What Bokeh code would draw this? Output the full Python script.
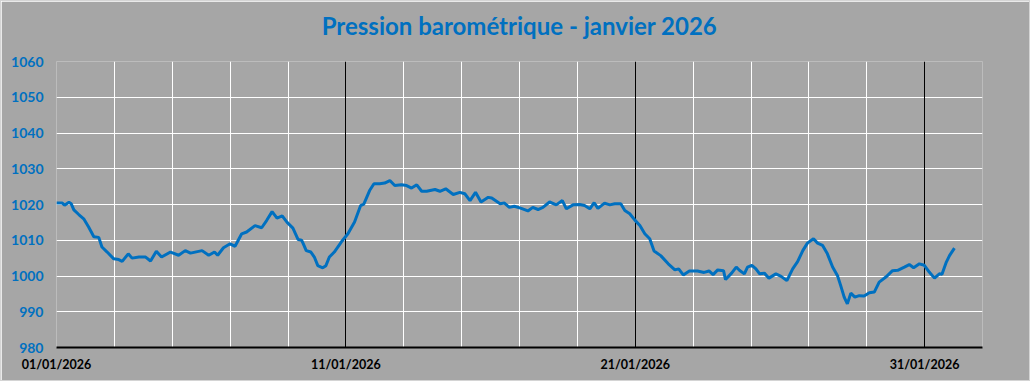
import pandas as pd
from bokeh.plotting import figure
from bokeh.models import Range1d, FixedTicker, DatetimeTickFormatter, Grid, ColumnDataSource, LinearAxis
from bokeh.embed import file_html
from bokeh.resources import INLINE

# --- data ---
start_date = "2026-01-01 00:00"
day_offset = [
    0.00, 0.20, 0.28, 0.43, 0.51, 0.60, 0.77, 0.94, 1.11, 1.29, 1.46, 1.57, 1.75, 1.98,
    2.15, 2.27, 2.48, 2.61, 2.85, 3.08, 3.25, 3.45, 3.63, 3.94, 4.22, 4.45, 4.63, 5.03,
    5.26, 5.46, 5.57, 5.77, 6.00, 6.17, 6.40, 6.57, 6.86, 7.09, 7.26, 7.45, 7.62, 7.80,
    7.97, 8.17, 8.35, 8.47, 8.53, 8.63, 8.79, 8.91, 9.03, 9.20, 9.31, 9.43, 9.60, 9.84,
    10.07, 10.30, 10.51, 10.62, 10.82, 10.97, 11.17, 11.34, 11.52, 11.69, 11.92, 12.10,
    12.27, 12.45, 12.62, 12.79, 13.08, 13.25, 13.45, 13.71, 13.94, 14.11, 14.29, 14.48,
    14.67, 14.92, 15.04, 15.33, 15.48, 15.65, 15.82, 16.06, 16.29, 16.46, 16.64, 16.81,
    17.04, 17.27, 17.48, 17.62, 17.85, 18.08, 18.25, 18.43, 18.58, 18.71, 18.94, 19.12,
    19.29, 19.50, 19.64, 19.81, 19.98, 20.16, 20.33, 20.50, 20.65, 20.88, 21.14, 21.37,
    21.50, 21.66, 21.87, 22.15, 22.38, 22.55, 22.69, 22.85, 23.05, 23.12, 23.33, 23.49,
    23.60, 23.77, 23.88, 24.03, 24.17, 24.30, 24.46, 24.62, 24.86, 25.04, 25.24, 25.44,
    25.61, 25.79, 25.95, 26.16, 26.30, 26.47, 26.64, 26.82, 26.99, 27.10, 27.22, 27.33,
    27.45, 27.59, 27.74, 27.91, 28.09, 28.26, 28.43, 28.66, 28.89, 29.07, 29.30, 29.47,
    29.62, 29.82, 29.99, 30.16, 30.34, 30.51, 30.60, 30.75, 30.86, 31.03,
]
pressure_hpa = [
    1020.4, 1020.4, 1019.8, 1020.6, 1020.2, 1018.5, 1017.2, 1016.0, 1013.7, 1011.0, 1010.8, 1008.1, 1006.7, 1004.8,
    1004.6, 1004.1, 1006.2, 1005.0, 1005.3, 1005.3, 1004.2, 1006.9, 1005.3, 1006.7, 1005.8, 1007.1, 1006.4, 1007.1,
    1005.8, 1006.7, 1005.8, 1007.9, 1009.0, 1008.3, 1011.8, 1012.3, 1014.1, 1013.5, 1015.5, 1018.0, 1016.2, 1016.8,
    1015.0, 1013.4, 1010.2, 1010.0, 1009.0, 1007.1, 1006.7, 1005.3, 1002.9, 1002.3, 1002.9, 1005.3, 1006.7, 1009.5,
    1011.8, 1015.1, 1019.7, 1020.1, 1023.9, 1025.8, 1025.8, 1026.0, 1026.7, 1025.3, 1025.5, 1025.3,
    1024.6, 1025.5, 1023.7, 1023.7, 1024.2, 1023.7, 1024.4, 1022.8, 1023.4, 1023.0, 1021.1, 1023.4,
    1020.7, 1022.0, 1021.8, 1020.2, 1020.4, 1019.2, 1019.5, 1018.9, 1018.2, 1019.2, 1018.6, 1019.2,
    1020.7, 1019.9, 1021.1, 1018.8, 1019.9, 1020.0, 1019.7, 1018.8, 1020.5, 1018.9, 1020.4, 1019.9,
    1020.2, 1020.2, 1018.3, 1017.4, 1015.7, 1014.1, 1011.8, 1010.4, 1007.0, 1005.7, 1003.4, 1001.7,
    1002.0, 1000.3, 1001.4, 1001.4, 1001.0, 1001.4, 1000.4, 1001.7, 1001.5, 999.0, 1000.8, 1002.5,
    1001.6, 1000.6, 1002.5, 1003.0, 1002.0, 1000.6, 1000.8, 999.4, 1000.6, 999.9, 998.7, 1002.0,
    1004.0, 1007.1, 1009.2, 1010.4, 1009.2, 1008.6, 1006.2, 1002.5, 1000.1, 997.3, 994.1, 992.2,
    995.2, 994.1, 994.5, 994.4, 995.3, 995.5, 998.3, 999.7, 1001.5, 1001.6, 1002.5, 1003.2,
    1002.3, 1003.4, 1003.0, 1001.1, 999.4, 1000.6, 1000.5, 1003.9, 1005.7, 1007.8,
]
y_ticks = [980, 990, 1000, 1010, 1020, 1030, 1040, 1050, 1060]
label_days = [0, 10, 20, 30]      # 01/01, 11/01, 21/01, 31/01
grid_days = list(range(0, 34, 2))  # every 2 days
title_text = "Pression barométrique - janvier 2026"

# --- build ---
t0 = pd.Timestamp(start_date)
times = t0 + pd.to_timedelta(day_offset, unit="D")
src = ColumnDataSource(dict(t=times, p=pressure_hpa))

def ms(d):
    return (t0 + pd.Timedelta(days=d)).value / 1e6

BG = "#a6a6a6"
BLUE = "#0070c0"

p = figure(width=1030, height=381, x_axis_type="datetime",
           output_backend="svg", toolbar_location=None,
           x_range=Range1d(ms(0), ms(32)), y_range=Range1d(980, 1060),
           min_border_left=55, min_border_right=49, min_border_top=60, min_border_bottom=35,
           background_fill_color=BG, border_fill_color=BG, outline_line_color=None)
p.styles = {"border": "1px solid #d4d4d4", "box-sizing": "border-box"}

# chart title carried by an empty axis above the frame (exact vertical placement)
title_axis = LinearAxis(ticker=FixedTicker(ticks=[]), axis_label=title_text,
                        axis_line_color=None, major_tick_line_color=None, minor_tick_line_color=None,
                        major_tick_out=0, major_tick_in=0, minor_tick_out=0, major_label_standoff=0,
                        axis_label_standoff=22, axis_label_text_font="Lato",
                        axis_label_text_font_style="bold", axis_label_text_font_size="24px",
                        axis_label_text_color=BLUE)
p.add_layout(title_axis, "above")

p.line("t", "p", source=src, line_color=BLUE, line_width=3)

# y axis
p.yaxis.ticker = FixedTicker(ticks=y_ticks)
p.yaxis.axis_line_color = None
p.yaxis.major_tick_line_color = None
p.yaxis.minor_tick_line_color = None
p.yaxis.major_label_text_font = "Lato"
p.yaxis.major_label_text_font_style = "bold"
p.yaxis.major_label_text_font_size = "14px"
p.yaxis.major_label_text_color = BLUE
p.yaxis.major_label_standoff = 13
p.yaxis.major_tick_out = 0
p.yaxis.major_tick_in = 0

# x axis (bottom)
xa = p.below[0]
xa.ticker = FixedTicker(ticks=[ms(d) for d in label_days])
fmt = "%d/%m/%Y"
xa.formatter = DatetimeTickFormatter(milliseconds=fmt, seconds=fmt, minsec=fmt, minutes=fmt,
                                     hourmin=fmt, hours=fmt, days=fmt, months=fmt, years=fmt)
xa.axis_line_color = "black"
xa.axis_line_width = 2
xa.major_tick_line_color = None
xa.minor_tick_line_color = None
xa.major_tick_out = 0
xa.major_tick_in = 0
xa.major_label_text_font = "Lato"
xa.major_label_text_font_style = "bold"
xa.major_label_text_font_size = "12.5px"
xa.major_label_text_color = "black"
xa.major_label_standoff = 9

# grids
p.ygrid.ticker = FixedTicker(ticks=y_ticks)
p.ygrid.grid_line_color = "white"
p.ygrid.grid_line_width = 1
p.xgrid.ticker = FixedTicker(ticks=[ms(d) for d in grid_days if d % 10 != 0])
p.xgrid.grid_line_color = "white"
p.xgrid.grid_line_width = 1
p.add_layout(Grid(dimension=0, ticker=FixedTicker(ticks=[ms(d) for d in label_days]),
                  grid_line_color="black", grid_line_width=1))

open("out.html", "w").write(file_html(p, INLINE))
